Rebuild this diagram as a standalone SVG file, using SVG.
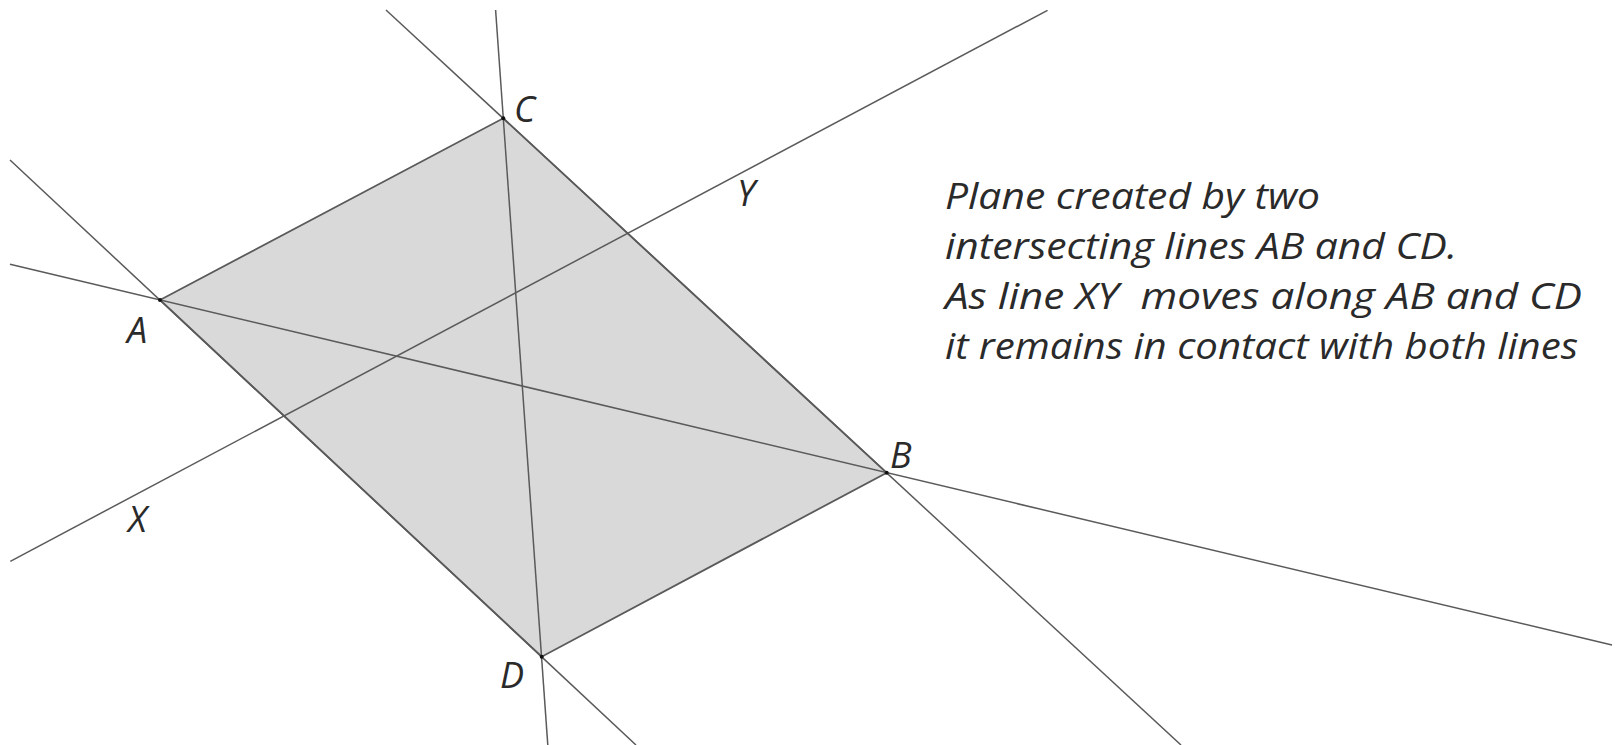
<svg xmlns="http://www.w3.org/2000/svg" width="1615" height="745" viewBox="0 0 1615 745">
<style>
.ln{stroke:#5a5a5a;stroke-width:1.5;fill:none}
.pl{fill:#d9d9d9;stroke:#5a5a5a;stroke-width:1.8}
.lb{font-family:"Open Sans","Noto Sans",sans-serif;font-style:italic;font-size:36px;fill:#2a2a2a}
.tx{font-family:"Open Sans","Noto Sans",sans-serif;font-style:italic;font-size:36px;fill:#2a2a2a;white-space:pre}
.pt{fill:#111}
</style>
<rect width="1615" height="745" fill="#fff"/>
<g id="plane">
<polygon class="pl" points="160,300 503.3,118.3 886.7,472.7 541.7,656.7"/>
</g>
<g id="connectors">
<line class="ln" x1="10" y1="160" x2="636" y2="745"/>
<line class="ln" x1="386" y1="10" x2="1181" y2="745"/>
<line class="ln" x1="10" y1="264.3" x2="1612" y2="645"/>
<line class="ln" x1="495.6" y1="10" x2="547.8" y2="745"/>
<line class="ln" x1="10.3" y1="561.3" x2="1047.5" y2="10.3"/>
</g>
<g id="A"><circle class="pt" cx="160" cy="300" r="2"/><text class="lb" x="127" y="343">A</text></g>
<g id="B"><circle class="pt" cx="886.7" cy="472.7" r="2"/><text class="lb" x="890" y="468">B</text></g>
<g id="C"><circle class="pt" cx="503.3" cy="118.3" r="2"/><text class="lb" x="514" y="122">C</text></g>
<g id="D"><circle class="pt" cx="541.7" cy="656.7" r="2"/><text class="lb" x="500" y="688">D</text></g>
<g id="X"><text class="lb" x="128" y="532">X</text></g>
<g id="Y"><text class="lb" x="737" y="206">Y</text></g>
<g id="caption">
<text class="tx" x="945" y="209" textLength="375" lengthAdjust="spacingAndGlyphs">Plane created by two</text>
<text class="tx" x="945" y="259" textLength="512" lengthAdjust="spacingAndGlyphs">intersecting lines AB and CD.</text>
<text class="tx" x="945" y="309" textLength="637" lengthAdjust="spacingAndGlyphs">As line XY  moves along AB and CD</text>
<text class="tx" x="945" y="359" textLength="633" lengthAdjust="spacingAndGlyphs">it remains in contact with both lines</text>
</g>
</svg>
